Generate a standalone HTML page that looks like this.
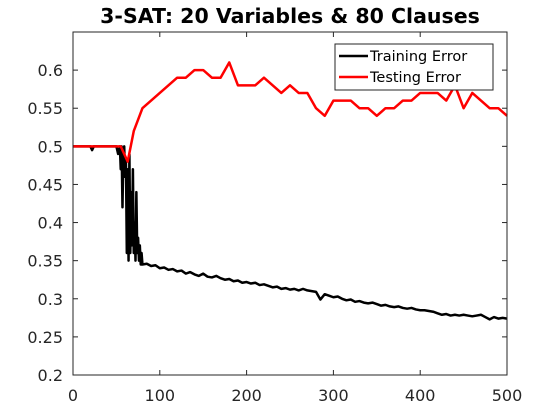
<!DOCTYPE html>
<html><head><meta charset="utf-8"><style>
html,body{margin:0;padding:0;background:#fff;}
svg{display:block;font-family:"DejaVu Sans","Liberation Sans",sans-serif;}
</style></head><body>
<svg id="chart" width="560" height="420">
<text x="290" y="23" text-anchor="middle" font-size="20.5" font-weight="bold">3-SAT: 20 Variables &amp; 80 Clauses</text>
<g id="axes"></g>
<g id="series"></g>
<rect x="73" y="32" width="434" height="343" fill="none" stroke="#262626" stroke-width="1"/>
<g>
<rect x="335" y="44" width="158" height="46" fill="#fff" stroke="#262626" stroke-width="1"/>
<line x1="339" y1="56" x2="368" y2="56" stroke="#000" stroke-width="2.5"/>
<text x="370" y="61" font-size="14.5">Training Error</text>
<line x1="339" y1="77" x2="368" y2="77" stroke="#f00" stroke-width="2.5"/>
<text x="370" y="82" font-size="14.5">Testing Error</text>
</g>
</svg>
<script>
const xTicks = [0,100,200,300,400,500];
const yTicks = [0.2,0.25,0.3,0.35,0.4,0.45,0.5,0.55,0.6];
const yTickLabels = ["0.2","0.25","0.3","0.35","0.4","0.45","0.5","0.55","0.6"];
const testX = [0,55,63,70,80,90,100,110,120,130,140,150,160,170,180,190,200,210,220,230,240,250,260,270,280,290,300,310,320,330,340,350,360,370,380,390,400,410,420,430,440,450,460,470,480,490,500];
const testY = [0.5,0.5,0.48,0.52,0.55,0.56,0.57,0.58,0.59,0.59,0.6,0.6,0.59,0.59,0.61,0.58,0.58,0.58,0.59,0.58,0.57,0.58,0.57,0.57,0.55,0.54,0.56,0.56,0.56,0.55,0.55,0.54,0.55,0.55,0.56,0.56,0.57,0.57,0.57,0.56,0.58,0.55,0.57,0.56,0.55,0.55,0.54];
const trainHeadX = [0,20,22,24,50,52,54,55,56,57,58,59,60,61,62,63,64,65,66,67,68,69,70,71,72,73,74,75,76,77,78,79,80];
const trainHeadY = [0.5,0.5,0.495,0.5,0.5,0.49,0.5,0.47,0.5,0.42,0.49,0.5,0.46,0.48,0.36,0.47,0.35,0.49,0.36,0.44,0.37,0.47,0.36,0.40,0.35,0.44,0.36,0.38,0.35,0.37,0.345,0.36,0.345];
const trainTailY = [0.346,0.343,0.344,0.340,0.341,0.338,0.339,0.336,0.337,0.333,0.335,0.332,0.330,0.333,0.329,0.328,0.330,0.327,0.325,0.326,0.323,0.324,0.321,0.322,0.320,0.321,0.318,0.319,0.317,0.315,0.316,0.313,0.314,0.312,0.313,0.311,0.313,0.311,0.310,0.309,0.299,0.306,0.304,0.302,0.303,0.300,0.298,0.299,0.296,0.297,0.295,0.294,0.295,0.293,0.291,0.292,0.290,0.289,0.290,0.288,0.287,0.288,0.286,0.285,0.285,0.284,0.283,0.281,0.279,0.280,0.278,0.279,0.278,0.279,0.278,0.277,0.278,0.279,0.276,0.273,0.276,0.274,0.275,0.274];
const trainTailStart = 85, trainTailStep = 5;

const X0=73,X1=507,Y0=375,Y1=32;
function sx(v){return X0+(v-0)/(500-0)*(X1-X0);}
function sy(v){return Y0-(v-0.2)/(0.65-0.2)*(Y0-Y1);}
const NS="http://www.w3.org/2000/svg";
const axes=document.getElementById('axes'), series=document.getElementById('series');
function mk(tag,attrs,parent){const e=document.createElementNS(NS,tag);for(const k in attrs)e.setAttribute(k,attrs[k]);parent.appendChild(e);return e;}

xTicks.forEach(t=>{
  const x=sx(t);
  const a=mk('line',{x1:x,y1:Y0,x2:x,y2:Y0-5,stroke:'#262626'},axes);
  
  
  const b=mk('line',{x1:x,y1:Y1,x2:x,y2:Y1+5,stroke:'#262626'},axes);
  
  
  const l=mk('text',{x:x,y:401,'text-anchor':'middle','font-size':'16',fill:'#262626'},axes);
  l.textContent=String(t);
  
  
});
yTicks.forEach((t,i)=>{
  const y=sy(t);
  const a=mk('line',{x1:X0,y1:y,x2:X0+5,y2:y,stroke:'#262626'},axes);
  
  
  const b=mk('line',{x1:X1,y1:y,x2:X1-5,y2:y,stroke:'#262626'},axes);
  
  
  const l=mk('text',{x:63,y:y+6,'text-anchor':'end','font-size':'16',fill:'#262626'},axes);
  l.textContent=yTickLabels[i];
  
  
});

const trainX=trainHeadX.slice(), trainY=trainHeadY.slice();
trainTailY.forEach((v,i)=>{trainX.push(trainTailStart+i*trainTailStep);trainY.push(v);});
const tp=mk('polyline',{points:trainX.map((x,i)=>sx(x)+','+sy(trainY[i])).join(' '),fill:'none',stroke:'#000','stroke-width':'2.5','stroke-linejoin':'round'},series);


const sp=mk('polyline',{points:testX.map((x,i)=>sx(x)+','+sy(testY[i])).join(' '),fill:'none',stroke:'#f00','stroke-width':'2.5','stroke-linejoin':'round'},series);


</script>
</body></html>
